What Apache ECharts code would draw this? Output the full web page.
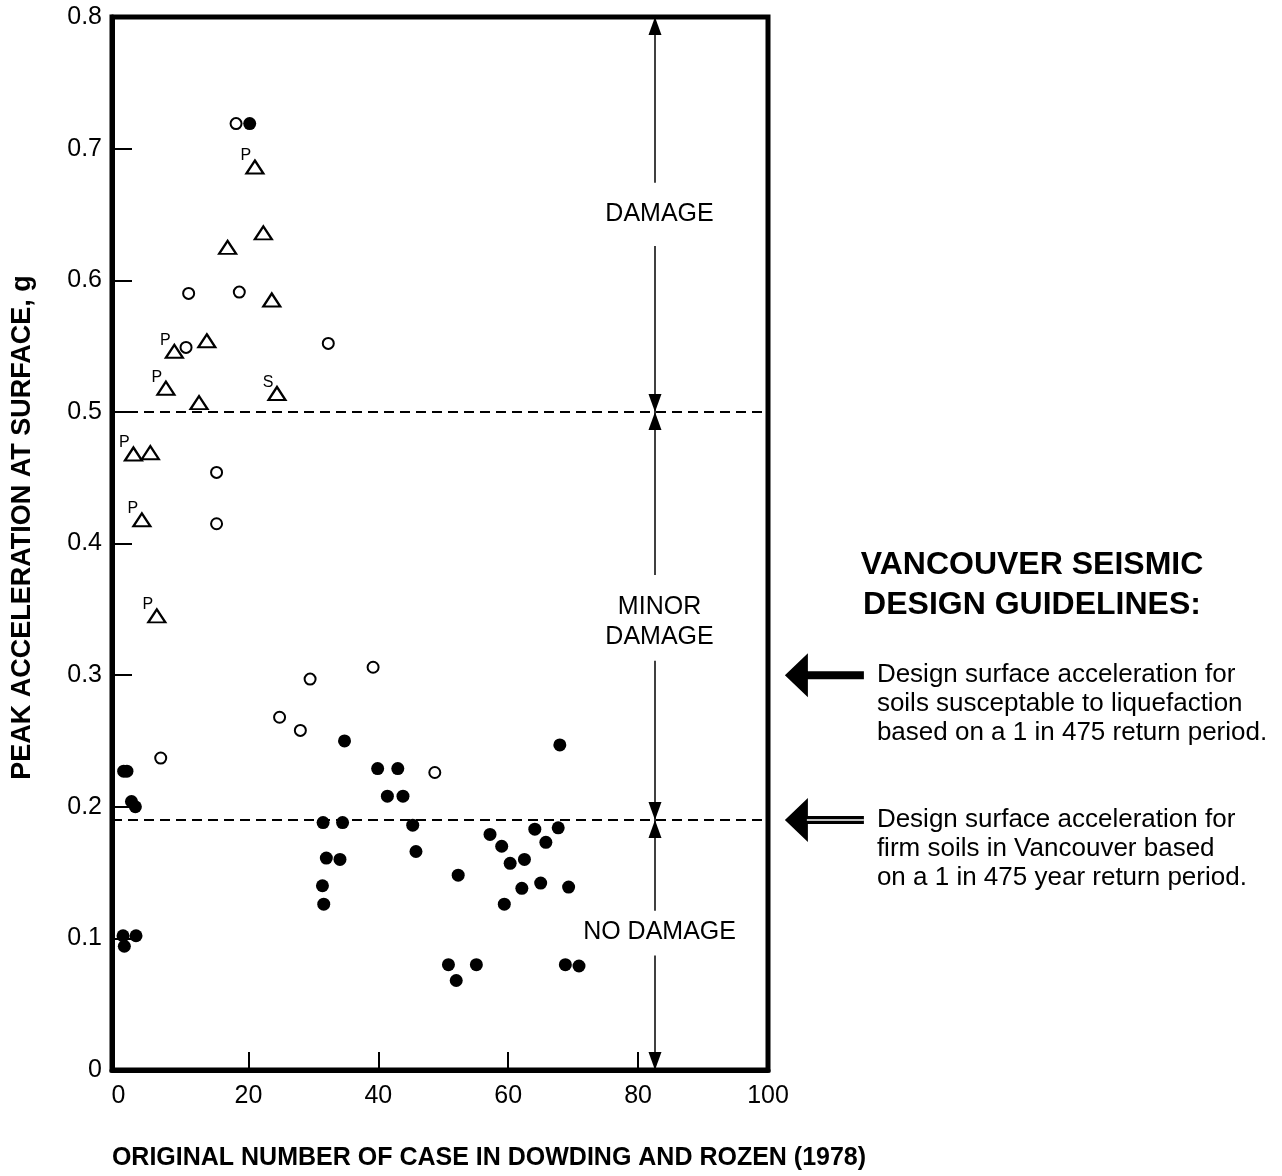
<!DOCTYPE html>
<html><head><meta charset="utf-8">
<script src="https://cdn.jsdelivr.net/npm/echarts@6/dist/echarts.min.js"></script>
<style>html,body{margin:0;padding:0;background:#fff}#c{width:1282px;height:1176px}</style>
</head><body><div id="c"></div>
<script>
// ---- data ----
const xTicks = [0, 20, 40, 60, 80, 100];
const xInnerTicks = [20, 40, 60, 80];
const yTicks = [0, 0.1, 0.2, 0.3, 0.4, 0.5, 0.6, 0.7, 0.8];

// open circles
const openX = [18.1, 10.8, 18.6, 10.4, 32.3, 15.1, 15.1, 39.2, 29.5, 24.8, 28.0, 6.5, 48.7];
const openY = [0.719, 0.590, 0.591, 0.549, 0.552, 0.454, 0.415, 0.306, 0.297, 0.268, 0.258, 0.237, 0.226];

// filled circles
const filledX = [20.2, 0.8, 1.3, 2.0, 2.6, 34.8, 39.9, 43.0, 41.4, 43.8, 31.5, 34.5, 45.3, 45.8, 32.0, 34.1, 31.4, 31.6,
  0.7, 2.7, 0.9, 67.95, 57.2, 64.1, 67.7, 59.0, 65.8, 62.5, 60.3, 52.3, 65.0, 62.1, 69.3, 59.4, 50.8, 55.1, 52.0, 68.8, 70.9];
const filledY = [0.719, 0.227, 0.227, 0.204, 0.200, 0.250, 0.229, 0.229, 0.208, 0.208, 0.188, 0.188, 0.186, 0.166, 0.161, 0.160, 0.140, 0.126,
  0.102, 0.102, 0.094, 0.247, 0.179, 0.183, 0.184, 0.170, 0.173, 0.160, 0.157, 0.148, 0.142, 0.138, 0.139, 0.126, 0.080, 0.080, 0.068, 0.080, 0.079];

// triangles with notes
const triX = [21.0, 22.3, 16.8, 23.6, 8.6, 13.6, 7.3, 24.4, 12.4, 2.3, 4.9, 3.6, 5.9];
const triY = [0.686, 0.636, 0.625, 0.585, 0.546, 0.554, 0.518, 0.514, 0.507, 0.468, 0.469, 0.418, 0.345];
const triNote = ['P', '', '', '', 'P', '', 'P', 'S', '', 'P', '', 'P', 'P'];

// boundaries and zones
const boundaryLevels = [0.5, 0.19];
const zoneArrowX = 82.6;
const zoneSegFrom = [0.674, 0.626, 0.376, 0.311, 0.121, 0.087];
const zoneSegTo   = [0.8,   0.5,   0.5,   0.19,  0.19,  0.0];
const zoneNames = ['DAMAGE', 'MINOR\nDAMAGE', 'NO DAMAGE'];
const zoneLabelX = 83.3;
const zoneLabelY = [0.65, 0.34, 0.1045];

// design guidelines
const guideLevels = [0.3, 0.19];
const guideArrowTipX = 102.6;
const guideTexts = [
  'Design surface acceleration for\nsoils susceptable to liquefaction\nbased on a 1 in 475 return period.',
  'Design surface acceleration for\nfirm soils in Vancouver based\non a 1 in 475 year return period.'
];
const headingText = 'VANCOUVER SEISMIC\nDESIGN GUIDELINES:';
const xTitle = 'ORIGINAL NUMBER OF CASE IN DOWDING AND ROZEN (1978)';
const yTitle = 'PEAK ACCELERATION AT SURFACE, g';

// ---- chart ----
const FONT = "'Liberation Sans', Arial, Helvetica, sans-serif";
const chart = echarts.init(document.getElementById('c'), null, {renderer: 'canvas'});

const zoneLines = zoneSegFrom.map((f, i) => [
  {coord: [zoneArrowX, f], symbol: 'none'},
  {coord: [zoneArrowX, zoneSegTo[i]], symbol: 'triangle', symbolSize: [13, 18], symbolOffset: [0, 9]}
]);

chart.setOption({
  animation: false,
  backgroundColor: '#fff',
  textStyle: {fontFamily: FONT, color: '#000'},
  grid: {left: 112, top: 17, width: 656, height: 1053, show: true, borderColor: '#000', borderWidth: 5, backgroundColor: 'transparent'},
  xAxis: {
    type: 'value', min: -1, max: 100,
    name: xTitle, nameLocation: 'middle', nameGap: 76,
    nameTextStyle: {fontFamily: FONT, fontWeight: 'bold', fontSize: 25, color: '#000', padding: [0, 0, 0, 98]},
    axisLine: {show: true, onZero: false, lineStyle: {color: '#000', width: 5}},
    axisTick: {show: true, inside: true, length: 18, customValues: xInnerTicks, lineStyle: {color: '#000', width: 2}},
    axisLabel: {customValues: xTicks, fontFamily: FONT, fontSize: 25, color: '#000', margin: 14},
    splitLine: {show: false}
  },
  yAxis: {
    type: 'value', min: 0, max: 0.8,
    name: yTitle, nameLocation: 'middle', nameRotate: 90, nameGap: 76,
    nameTextStyle: {fontFamily: FONT, fontWeight: 'bold', fontSize: 27, color: '#000', padding: [0, 0, 0, 32]},
    axisLine: {show: true, onZero: false, lineStyle: {color: '#000', width: 5}},
    axisTick: {show: true, inside: true, length: 20, customValues: yTicks, lineStyle: {color: '#000', width: 2}},
    axisLabel: {customValues: yTicks, fontFamily: FONT, fontSize: 25, color: '#000', margin: 10,
      formatter: v => (Math.abs(v) < 1e-9 ? '0' : v.toFixed(1))},
    splitLine: {show: false}
  },
  series: [
    {
      name: 'boundaries', type: 'scatter', data: [], silent: true,
      markLine: {
        silent: true, symbol: 'none', label: {show: false},
        lineStyle: {color: '#000', width: 2, type: [10, 6], opacity: 1},
        data: boundaryLevels.map(v => ({yAxis: v}))
      }
    },
    {
      name: 'zones', type: 'scatter', silent: true,
      symbolSize: 0, itemStyle: {opacity: 1},
      data: zoneNames.map((n, i) => ({name: n, value: [zoneLabelX, zoneLabelY[i]]})),
      label: {show: true, position: 'inside', formatter: '{b}', fontFamily: FONT, fontSize: 25, lineHeight: 30, color: '#000', align: 'center', opacity: 1},
      markLine: {
        silent: true, label: {show: false},
        lineStyle: {color: '#000', width: 1.5, type: 'solid', opacity: 1},
        itemStyle: {color: '#000', opacity: 1},
        data: zoneLines
      }
    },
    {
      name: 'open', type: 'scatter', symbol: 'circle', symbolSize: 11,
      itemStyle: {color: '#fff', borderColor: '#000', borderWidth: 2, opacity: 1},
      data: openX.map((x, i) => [x, openY[i]])
    },
    {
      name: 'filled', type: 'scatter', symbol: 'circle', symbolSize: 13,
      itemStyle: {color: '#000', opacity: 1},
      data: filledX.map((x, i) => [x, filledY[i]])
    },
    {
      name: 'triangles', type: 'scatter', symbol: 'triangle', symbolSize: [17, 13],
      itemStyle: {color: '#fff', borderColor: '#000', borderWidth: 2.2, opacity: 1},
      data: triX.map((x, i) => ({name: triNote[i], value: [x, triY[i]]})),
      label: {show: true, position: 'inside', offset: [-9, -11], formatter: '{b}', fontFamily: FONT, fontSize: 16, color: '#000'}
    }
  ]
});

// right-hand guideline annotations, positioned through the axes
const graphics = [];
guideLevels.forEach((lv, i) => {
  const tip = chart.convertToPixel({gridIndex: 0}, [guideArrowTipX, lv]);
  const tx = tip[0], ty = tip[1];
  graphics.push({
    type: 'polygon',
    shape: {points: [[tx, ty], [tx + 23, ty - 22], [tx + 23, ty - 4], [tx + 79, ty - 4], [tx + 79, ty + 4], [tx + 23, ty + 4], [tx + 23, ty + 22]]},
    style: {fill: '#000'}
  });
  if (i === 1) {
    graphics.push({type: 'line', shape: {x1: tx + 22, y1: ty, x2: tx + 79, y2: ty}, style: {stroke: '#fff', lineWidth: 1.5}});
  }
  graphics.push({
    type: 'text', x: tx + 92, y: ty - 15,
    style: {text: guideTexts[i], fontFamily: FONT, fontSize: 26, lineHeight: 29, fill: '#000', textAlign: 'left', textVerticalAlign: 'top'}
  });
});
graphics.push({
  type: 'text', x: 1032, y: 545,
  style: {text: headingText, fontFamily: FONT, fontWeight: 'bold', fontSize: 32, lineHeight: 40, fill: '#000', textAlign: 'center', textVerticalAlign: 'top'}
});
chart.setOption({graphic: graphics});
</script>
</body></html>
